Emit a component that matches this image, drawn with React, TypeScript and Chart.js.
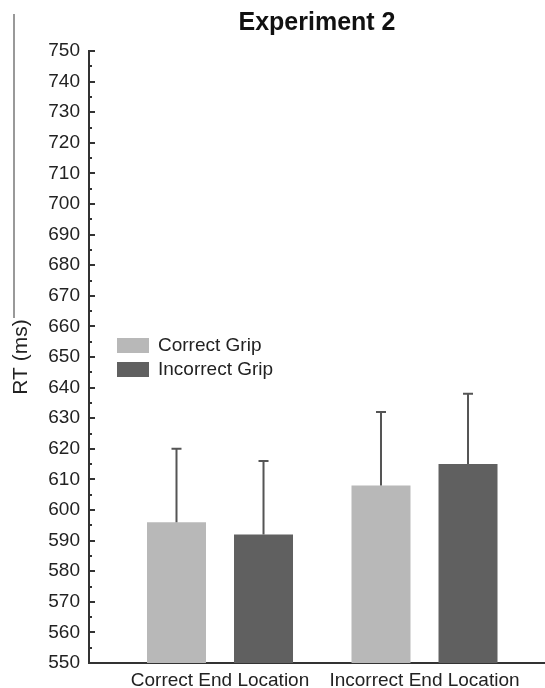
import React, { useEffect, useRef } from "react";
import { Chart, registerables } from "chart.js";

Chart.register(...registerables);

const title = "Experiment 2";
const categories = ["Correct End Location", "Incorrect End Location"];
const categoryPositions = [1, 2];
const seriesNames = ["Correct Grip", "Incorrect Grip"];
const correctGrip = [596, 608];
const incorrectGrip = [592, 615];
const correctGripErrTop = [620, 632];
const incorrectGripErrTop = [616, 638];
const yTitle = "RT (ms)";
const yMin = 550;
const yMax = 750;
const yStep = 5;

const FONT = "'Liberation Sans', Arial, Helvetica, sans-serif";
const TEXT = "#222222";
const AXIS = "#333333";
const COLORS = ["#b8b8b8", "#606060"];

const errTops = [correctGripErrTop, incorrectGripErrTop];

const extrasPlugin = {
  id: "extras",
  afterDatasetsDraw(chart: any) {
    const ctx = chart.ctx;
    const yScale = chart.scales.y;
    ctx.save();
    ctx.strokeStyle = "#555555";
    ctx.lineWidth = 2;
    chart.data.datasets.forEach((ds: any, di: number) => {
      const meta = chart.getDatasetMeta(di);
      meta.data.forEach((bar: any, i: number) => {
        const top = yScale.getPixelForValue(errTops[di][i]);
        ctx.beginPath();
        ctx.moveTo(bar.x, bar.y);
        ctx.lineTo(bar.x, top);
        ctx.moveTo(bar.x - 5, top);
        ctx.lineTo(bar.x + 5, top);
        ctx.stroke();
      });
    });
    ctx.restore();
  },
  afterDraw(chart: any) {
    const ctx = chart.ctx;
    const yScale = chart.scales.y;
    const area = chart.chartArea;
    ctx.save();
    ctx.strokeStyle = AXIS;
    ctx.lineWidth = 2;
    yScale.ticks.forEach((t: any) => {
      const py = Math.round(yScale.getPixelForValue(t.value));
      const major = t.value % 10 === 0;
      ctx.beginPath();
      ctx.moveTo(area.left, py);
      ctx.lineTo(area.left + (major ? 6 : 3), py);
      ctx.stroke();
    });
    const lx = area.left + 28;
    const ly = [338, 362];
    ctx.font = `19px ${FONT}`;
    ctx.textBaseline = "middle";
    ctx.textAlign = "left";
    chart.data.datasets.forEach((ds: any, di: number) => {
      ctx.fillStyle = ds.backgroundColor;
      ctx.fillRect(lx, ly[di], 32, 15);
      ctx.fillStyle = TEXT;
      ctx.fillText(ds.label, lx + 41, ly[di] + 8);
    });
    ctx.strokeStyle = "#777777";
    ctx.lineWidth = 1.5;
    ctx.beginPath();
    ctx.moveTo(14, 14);
    ctx.lineTo(14, 318);
    ctx.stroke();
    ctx.restore();
  },
};

export default function App() {
  const ref = useRef<HTMLCanvasElement>(null);
  useEffect(() => {
    if (!ref.current) return;
    const chart = new Chart(ref.current, {
      type: "bar",
      data: {
        datasets: [
          {
            label: seriesNames[0],
            data: categoryPositions.map((x, i) => ({ x, y: correctGrip[i] })),
            backgroundColor: COLORS[0],
          },
          {
            label: seriesNames[1],
            data: categoryPositions.map((x, i) => ({ x, y: incorrectGrip[i] })),
            backgroundColor: COLORS[1],
          },
        ],
      },
      options: {
        animation: false,
        responsive: true,
        maintainAspectRatio: false,
        datasets: { bar: { categoryPercentage: 0.851, barPercentage: 0.678 } } as any,
        layout: { padding: { left: 0, right: 0, top: 0, bottom: 0 } },
        plugins: {
          legend: { display: false },
          tooltip: { enabled: false },
          title: {
            display: true,
            text: title,
            fullSize: false,
            color: "#111111",
            font: { family: FONT, size: 25, weight: "bold" },
            padding: { top: 8, bottom: 13 },
          },
        },
        scales: {
          x: {
            type: "linear",
            offset: false,
            min: 0.3594,
            max: 2.5892,
            grid: { display: false, drawTicks: false, offset: false },
            border: { display: true, color: AXIS, width: 2 },
            afterBuildTicks: (s: any) => {
              s.ticks = categoryPositions.map((v) => ({ value: v }));
            },
            afterFit: (s: any) => {
              s.height = 25;
            },
            ticks: {
              padding: 6,
              color: TEXT,
              font: { family: FONT, size: 19 },
              maxRotation: 0,
              autoSkip: false,
              callback: (v: any) => {
                const idx = categoryPositions.indexOf(Number(v));
                return idx >= 0 ? categories[idx] : "";
              },
            },
          },
          y: {
            min: yMin,
            max: yMax,
            grid: { display: false, drawTicks: false },
            border: { display: true, color: AXIS, width: 2 },
            afterFit: (s: any) => {
              s.width = 89;
            },
            title: {
              display: true,
              text: yTitle,
              color: TEXT,
              font: { family: FONT, size: 21 },
              padding: { top: 9, bottom: 0 },
            },
            ticks: {
              stepSize: yStep,
              autoSkip: false,
              padding: 9,
              color: TEXT,
              font: { family: FONT, size: 19 },
              callback: (v: any) => (Number(v) % 10 === 0 ? String(v) : ""),
            },
          },
        },
      },
      plugins: [extrasPlugin],
    });
    return () => chart.destroy();
  }, []);
  return (
    <div style={{ position: "fixed", left: 0, top: 0, width: 545, height: 688, background: "#fff" }}>
      <canvas ref={ref} />
    </div>
  );
}
